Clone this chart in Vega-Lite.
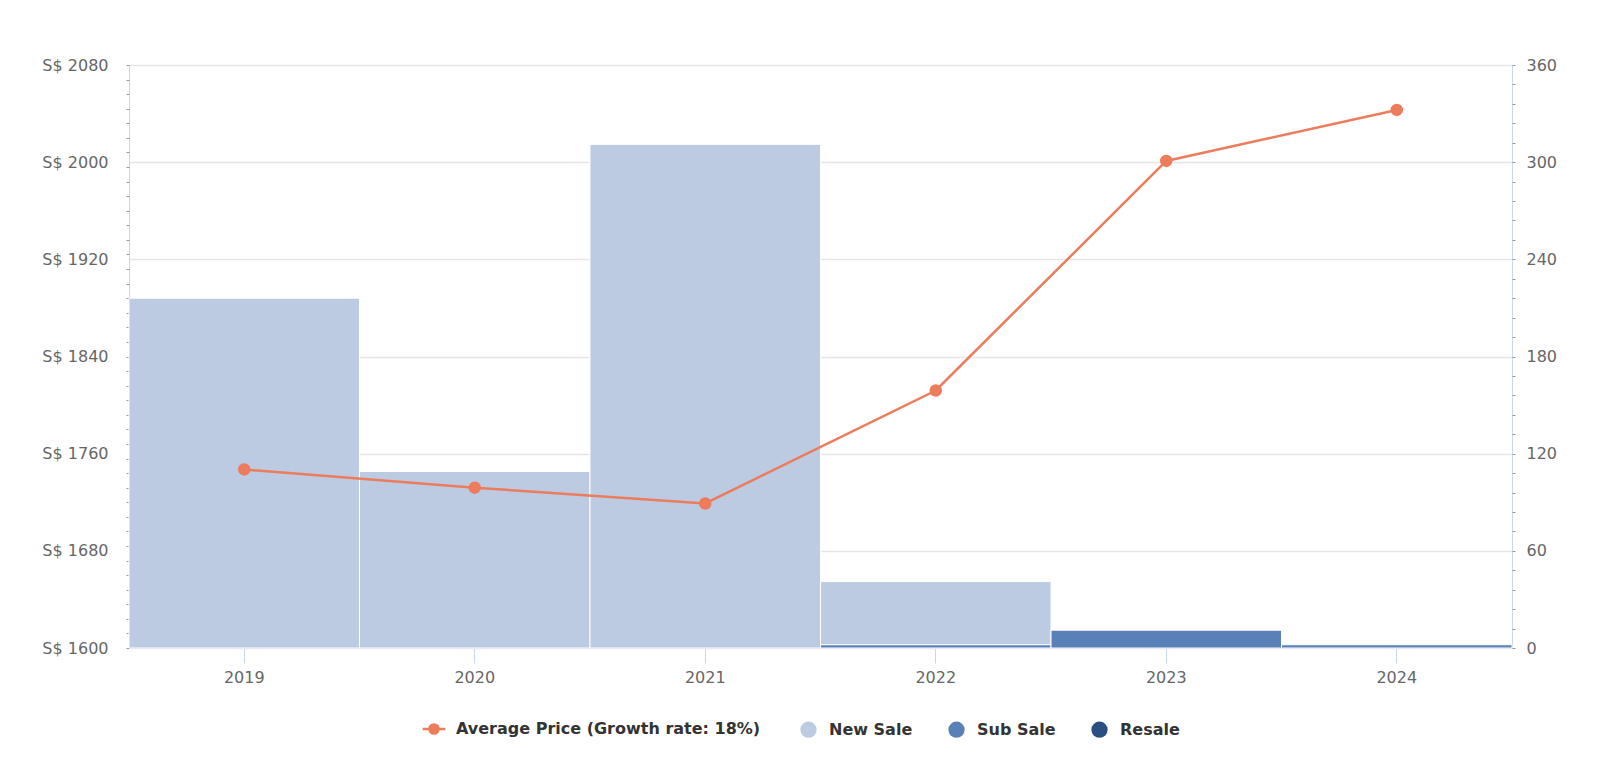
{
  "$schema": "https://vega.github.io/schema/vega-lite/v6.json",
  "width": 1383,
  "height": 583,
  "autosize": {"type": "none"},
  "padding": {"left": 129, "top": 65, "right": 88, "bottom": 125},
  "background": "white",
  "datasets": {
    "sales": [
      {"year": "2019", "series": "New Sale", "units": 216},
      {"year": "2020", "series": "New Sale", "units": 109},
      {"year": "2021", "series": "New Sale", "units": 311},
      {"year": "2022", "series": "New Sale", "units": 39},
      {"year": "2022", "series": "Sub Sale", "units": 2},
      {"year": "2023", "series": "Sub Sale", "units": 11},
      {"year": "2024", "series": "Sub Sale", "units": 2}
    ],
    "price": [
      {"year": "2019", "series": "Average Price (Growth rate: 18%)", "price": 1747},
      {"year": "2020", "series": "Average Price (Growth rate: 18%)", "price": 1732},
      {"year": "2021", "series": "Average Price (Growth rate: 18%)", "price": 1719},
      {"year": "2022", "series": "Average Price (Growth rate: 18%)", "price": 1812},
      {"year": "2023", "series": "Average Price (Growth rate: 18%)", "price": 2001},
      {"year": "2024", "series": "Average Price (Growth rate: 18%)", "price": 2043}
    ]
  },
  "encoding": {
    "x": {
      "field": "year",
      "type": "ordinal",
      "title": null,
      "scale": {"domain": ["2019", "2020", "2021", "2022", "2023", "2024"], "paddingInner": 0, "paddingOuter": 0},
      "axis": {
        "labelAngle": 0,
        "labelFontSize": 16,
        "labelColor": "#666666",
        "labelPadding": 6,
        "tickSize": 15,
        "tickColor": "#ccd6eb",
        "domainColor": "#ccd6eb",
        "grid": false
      }
    }
  },
  "layer": [
    {
      "data": {"name": "sales"},
      "mark": {"type": "bar", "stroke": "white", "strokeWidth": 1},
      "encoding": {
        "y": {
          "field": "units",
          "type": "quantitative",
          "stack": "zero",
          "title": null,
          "scale": {"domain": [0, 360], "nice": false},
          "axis": {
            "orient": "right",
            "values": [0, 60, 120, 180, 240, 300, 360],
            "labelFontSize": 16,
            "labelColor": "#666666",
            "labelPadding": 14,
            "tickSize": 0,
            "domainColor": "#ccd6eb",
            "grid": false
          }
        },
        "color": {
          "field": "series",
          "type": "nominal",
          "scale": {
            "domain": ["New Sale", "Sub Sale", "Resale"],
            "range": ["#bccbe1", "#5a80b8", "#2b4f82"]
          },
          "legend": {
            "title": null,
            "orient": "none",
            "legendX": 671,
            "legendY": 656,
            "direction": "horizontal",
            "labelFontSize": 16,
            "labelFontWeight": "bold",
            "labelColor": "#333333",
            "labelFont": "DejaVu Sans",
            "labelLimit": 0,
            "symbolType": "circle",
            "symbolSize": 265,
            "symbolStrokeWidth": 0,
            "symbolOpacity": 1,
            "labelOffset": 12,
            "columnPadding": 35
          }
        },
        "order": {"field": "series", "sort": "descending"}
      }
    },
    {
      "data": {"name": "price"},
      "mark": {"type": "line", "strokeWidth": 2.5, "point": {"size": 110, "filled": true, "fill": "#ec7c5b", "opacity": 1}},
      "encoding": {
        "y": {
          "field": "price",
          "type": "quantitative",
          "title": null,
          "scale": {"domain": [1600, 2080], "nice": false, "zero": false},
          "axis": {
            "orient": "left",
            "values": [1600, 1680, 1760, 1840, 1920, 2000, 2080],
            "labelExpr": "'S$ ' + datum.value",
            "labelFontSize": 16,
            "labelColor": "#666666",
            "labelPadding": 21,
            "tickSize": 0,
            "domainColor": "#ccd6eb",
            "grid": true,
            "gridColor": "#e6e6e6",
            "gridWidth": 1.5
          }
        },
        "stroke": {
          "field": "series",
          "type": "nominal",
          "scale": {"domain": ["Average Price (Growth rate: 18%)"], "range": ["#ec7c5b"]},
          "legend": {
            "title": null,
            "orient": "none",
            "legendX": 297,
            "legendY": 656,
            "direction": "horizontal",
            "labelFontSize": 16,
            "labelFontWeight": "bold",
            "labelColor": "#333333",
            "labelFont": "DejaVu Sans",
            "labelLimit": 0,
            "symbolType": "M-1.85,0L1.85,0M0.75,0A0.75,0.75,0,1,1,-0.75,0A0.75,0.75,0,1,1,0.75,0Z",
            "symbolSize": 150,
            "symbolStrokeWidth": 2.5,
            "symbolFillColor": "#ec7c5b",
            "symbolOpacity": 1,
            "labelOffset": 14
          }
        }
      }
    },
    {
      "data": {"name": "price"},
      "mark": {"type": "point", "opacity": 0},
      "encoding": {
        "y": {
          "field": "price",
          "type": "quantitative",
          "title": null,
          "scale": {"domain": [1600, 2080], "nice": false, "zero": false},
          "axis": {
            "orient": "left",
            "values": [1600, 1612, 1624, 1636, 1648, 1660, 1672, 1684, 1696, 1708, 1720, 1732, 1744, 1756, 1768, 1780, 1792, 1804, 1816, 1828, 1840, 1852, 1864, 1876, 1888, 1900, 1912, 1924, 1936, 1948, 1960, 1972, 1984, 1996, 2008, 2020, 2032, 2044, 2056, 2068, 2080],
            "labels": false,
            "domain": false,
            "grid": false,
            "tickSize": 3,
            "tickColor": "#999999"
          }
        }
      }
    },
    {
      "data": {"name": "sales"},
      "mark": {"type": "point", "opacity": 0},
      "encoding": {
        "y": {
          "field": "units",
          "type": "quantitative",
          "title": null,
          "scale": {"domain": [0, 360], "nice": false},
          "axis": {
            "orient": "right",
            "values": [0, 12, 24, 36, 48, 60, 72, 84, 96, 108, 120, 132, 144, 156, 168, 180, 192, 204, 216, 228, 240, 252, 264, 276, 288, 300, 312, 324, 336, 348, 360],
            "labels": false,
            "domain": false,
            "grid": false,
            "tickSize": 3,
            "tickColor": "#999999"
          }
        }
      }
    }
  ],
  "resolve": {"scale": {"y": "independent"}, "axis": {"y": "independent"}},
  "config": {
    "font": "DejaVu Sans",
    "view": {"stroke": null},
    "axis": {"labelFont": "DejaVu Sans"}
  }
}
